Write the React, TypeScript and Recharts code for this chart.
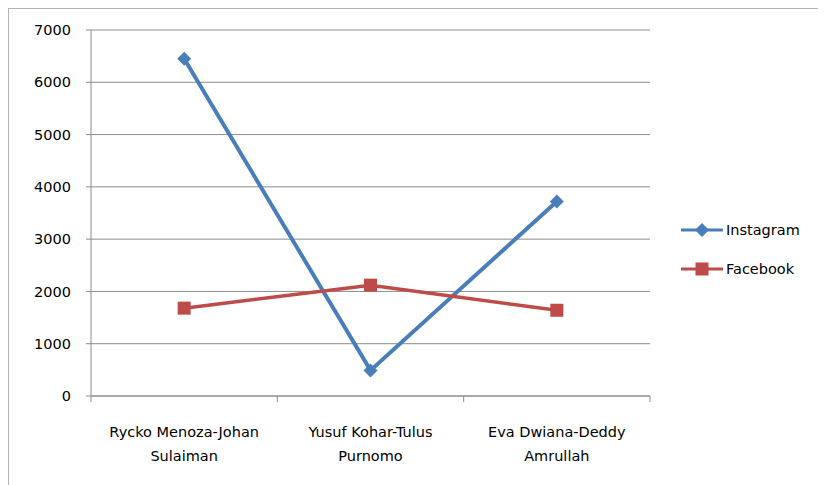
import React from "react";
import {
  LineChart,
  Line,
  XAxis,
  YAxis,
  CartesianGrid,
} from "recharts";

const categories = [
  ["Rycko Menoza-Johan", "Sulaiman"],
  ["Yusuf Kohar-Tulus", "Purnomo"],
  ["Eva Dwiana-Deddy", "Amrullah"],
];
const instagram = [6450, 490, 3720];
const facebook = [1680, 2120, 1640];
const yTicks = [0, 1000, 2000, 3000, 4000, 5000, 6000, 7000];
const boundaryTicks = [0, 1, 2, 3];

const data = categories.map((c, i) => ({
  name: c.join("\n"),
  pos: i + 0.5,
  Instagram: instagram[i],
  Facebook: facebook[i],
}));

const BLUE = "#4A7EBB";
const RED = "#BE4B48";
const GRID = "#8c8c8c";
const FONT = "'DejaVu Sans', sans-serif";

const Diamond = (props: any) => {
  const { cx, cy } = props;
  if (cx == null || cy == null) return null;
  const r = 7;
  return (
    <path
      d={`M${cx},${cy - r} L${cx + r},${cy} L${cx},${cy + r} L${cx - r},${cy} Z`}
      fill={BLUE}
    />
  );
};

const Square = (props: any) => {
  const { cx, cy } = props;
  if (cx == null || cy == null) return null;
  const s = 13;
  return <rect x={cx - s / 2} y={cy - s / 2} width={s} height={s} fill={RED} />;
};

const CatTick = (props: any) => {
  const { x, y, payload } = props;
  const lines = String(payload.value).split("\n");
  return (
    <text
      x={x}
      y={y}
      textAnchor="middle"
      fill="#000"
      fontSize={14.5}
      fontFamily={FONT}
    >
      {lines.map((l, i) => (
        <tspan key={i} x={x} dy={i === 0 ? 32 : 24}>
          {l}
        </tspan>
      ))}
    </text>
  );
};

const EmptyTick = () => <g />;

const legendItems = [
  { name: "Instagram", color: BLUE, shape: "diamond" },
  { name: "Facebook", color: RED, shape: "square" },
];

const LegendBox = () => (
  <div
    style={{
      position: "absolute",
      left: 671,
      top: 201,
      width: 146,
      fontFamily: FONT,
      fontSize: 14.5,
      color: "#000",
    }}
  >
    {legendItems.map((it) => (
      <div
        key={it.name}
        style={{ height: 39, display: "flex", alignItems: "center" }}
      >
        <svg width={44} height={20} style={{ display: "block" }}>
          <line x1={1} y1={10} x2={43} y2={10} stroke={it.color} strokeWidth={3} />
          {it.shape === "diamond" ? (
            <path d="M22,3 L29,10 L22,17 L15,10 Z" fill={it.color} />
          ) : (
            <rect x={15.5} y={3.5} width={13} height={13} fill={it.color} />
          )}
        </svg>
        <span style={{ marginLeft: 2 }}>{it.name}</span>
      </div>
    ))}
  </div>
);

export default function App() {
  return (
    <div
      style={{
        position: "relative",
        marginTop: -1,
        marginLeft: -1,
        borderTop: "2px solid #b4b4b4",
        borderLeft: "2px solid #b4b4b4",
        width: 817,
        height: 476,
      }}
    >
      <LineChart
        width={817}
        height={476}
        data={data}
        margin={{ top: 21, left: 22, right: 176, bottom: 28 }}
      >
        <CartesianGrid
          vertical={false}
          stroke={GRID}
          strokeWidth={1}
          xAxisId="cat"
        />
        <XAxis
          xAxisId="b"
          dataKey="pos"
          type="number"
          domain={[0, 3]}
          ticks={boundaryTicks}
          interval={0}
          tick={<EmptyTick />}
          height={1}
          tickSize={6}
          axisLine={{ stroke: GRID }}
          tickLine={{ stroke: GRID }}
          allowDataOverflow
        />
        <XAxis
          xAxisId="cat"
          dataKey="name"
          scale="band"
          axisLine={false}
          tickLine={false}
          height={60}
          interval={0}
          tick={<CatTick />}
        />
        <YAxis
          width={60}
          domain={[0, 7000]}
          ticks={yTicks}
          interval={0}
          tickSize={5}
          tickMargin={15}
          axisLine={{ stroke: GRID }}
          tickLine={{ stroke: GRID }}
          tick={{ fill: "#000", fontSize: 14.5, fontFamily: FONT }}
        />
        <Line
          xAxisId="cat"
          type="linear"
          dataKey="Instagram"
          stroke={BLUE}
          strokeWidth={4}
          dot={<Diamond />}
          activeDot={false}
          isAnimationActive={false}
        />
        <Line
          xAxisId="cat"
          type="linear"
          dataKey="Facebook"
          stroke={RED}
          strokeWidth={3.5}
          dot={<Square />}
          activeDot={false}
          isAnimationActive={false}
        />
      </LineChart>
      <LegendBox />
    </div>
  );
}
